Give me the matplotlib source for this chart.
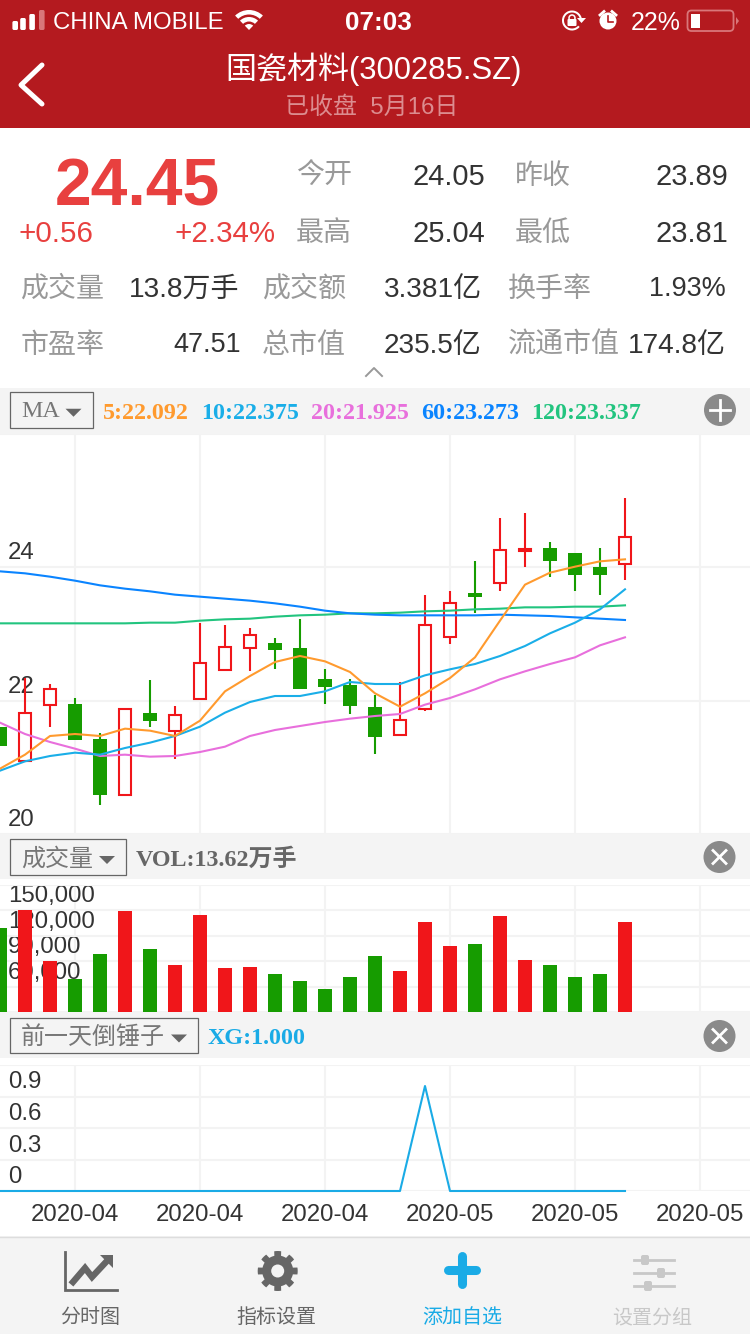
import numpy as np
import matplotlib
matplotlib.use("Agg")
import matplotlib.pyplot as plt
from matplotlib.patches import Rectangle, Circle, Wedge, Polygon, FancyBboxPatch
from matplotlib.transforms import ScaledTranslation

W, H = 750, 1334
SANS = ['Liberation Sans', 'Noto Sans CJK SC', 'DejaVu Sans']
SERIF = ['Liberation Serif', 'Noto Sans CJK SC', 'DejaVu Sans']
plt.rcParams['font.family'] = SANS

# ---------- data ----------
opens = [21.61, 21.10, 21.94, 21.95, 21.43, 20.59, 21.82, 21.55, 22.03, 22.46, 22.79, 22.86, 22.79,
         22.32, 22.23, 21.91, 21.49, 21.88, 22.95, 23.61, 23.77, 24.25, 24.29, 24.22, 24.01, 24.05]
closes = [21.32, 21.82, 22.17, 21.41, 20.58, 21.88, 21.70, 21.79, 22.56, 22.80, 22.98, 22.76, 22.17,
          22.20, 21.92, 21.46, 21.71, 23.13, 23.46, 23.55, 24.26, 24.28, 24.09, 23.89, 23.89, 24.45]
highs = [21.61, 22.34, 22.25, 22.04, 21.52, 21.89, 22.31, 21.92, 23.16, 23.14, 23.09, 22.94, 23.23,
         22.47, 22.32, 22.09, 22.28, 23.58, 23.65, 24.09, 24.74, 24.82, 24.38, 24.22, 24.29, 25.04]
lows = [21.32, 21.10, 21.61, 21.41, 20.43, 20.59, 21.61, 21.13, 22.03, 22.46, 22.44, 22.47, 22.17,
        21.95, 21.80, 21.20, 21.49, 21.85, 22.85, 23.32, 23.65, 24.01, 23.86, 23.65, 23.59, 23.81]
ma5 = [20.98, 21.19, 21.47, 21.50, 21.47, 21.58, 21.55, 21.47, 21.70, 22.14, 22.37, 22.58, 22.67,
       22.59, 22.43, 22.11, 21.91, 22.11, 22.34, 22.65, 23.20, 23.74, 23.92, 24.01, 24.09, 24.12]
ma10 = [20.95, 21.09, 21.17, 21.22, 21.19, 21.29, 21.37, 21.47, 21.61, 21.82, 21.98, 22.07, 22.07,
        22.14, 22.28, 22.25, 22.25, 22.38, 22.47, 22.55, 22.67, 22.82, 23.01, 23.17, 23.37, 23.67]
ma20 = [21.67, 21.50, 21.38, 21.28, 21.17, 21.19, 21.16, 21.17, 21.23, 21.31, 21.47, 21.56, 21.62,
        21.68, 21.73, 21.77, 21.80, 21.94, 22.04, 22.17, 22.32, 22.44, 22.55, 22.65, 22.83, 22.95]
ma60 = [23.94, 23.91, 23.86, 23.80, 23.73, 23.68, 23.64, 23.59, 23.56, 23.53, 23.50, 23.46, 23.41,
        23.35, 23.31, 23.29, 23.28, 23.28, 23.28, 23.28, 23.29, 23.28, 23.27, 23.25, 23.23, 23.21]
ma120 = [23.16, 23.16, 23.16, 23.16, 23.16, 23.16, 23.17, 23.17, 23.20, 23.22, 23.23, 23.26, 23.28,
         23.29, 23.31, 23.31, 23.32, 23.34, 23.35, 23.37, 23.38, 23.40, 23.40, 23.41, 23.41, 23.43]
volume = [129200, 150500, 90200, 69000, 98500, 149300, 104400, 85500, 144600, 82000, 83100, 74900, 66600,
          57200, 71300, 96100, 78400, 136300, 107900, 110300, 143400, 91400, 85500, 71300, 74900, 136200]
signal = [0, 0, 0, 0, 0, 0, 0, 0, 0, 0, 0, 0, 0, 0, 0, 0, 0, 1, 0, 0, 0, 0, 0, 0, 0, 0]
date_labels = ['2020-04', '2020-04', '2020-04', '2020-05', '2020-05', '2020-05']
date_ticks = [3, 8, 13, 18, 23, 28]
price_ticks = [20, 22, 24, 26]
price_labels = ['20', '22', '24', '']
vol_ticks = [30000, 60000, 90000, 120000, 150000, 180000]
vol_labels = ['', '60,000', '90,000', '120,000', '150,000', '']
sig_ticks = [0, 0.3, 0.6, 0.9, 1.2]
sig_labels = ['0', '0.3', '0.6', '0.9', '']

RED = '#f0161a'
GREEN = '#169c00'
GRID = '#f3f3f3'
BLUE = '#1aabe6'
BAND = '#f4f4f4'
x = np.arange(len(opens))

fig = plt.figure(figsize=(7.5, 13.34), dpi=100, facecolor='white')

# ---------- page furniture in pixel coordinates ----------
bg = fig.add_axes([0, 0, 1, 1], zorder=0)
bg.set_xlim(0, W)
bg.set_ylim(H, 0)
bg.axis('off')


def px(size):
    return size * 0.72


def T(xp, yp, s, size, color='#333333', ha='left', weight='normal', fam=None):
    bg.text(xp, yp + 0.09 * size, s, fontsize=px(size), color=color, ha=ha, va='center', weight=weight,
            family=fam or SANS)


def R(x0, y0, x1, y1, fc, ec='none', lw=0):
    bg.add_patch(Rectangle((x0, y0), x1 - x0, y1 - y0, fc=fc, ec=ec, lw=lw))


def RR(x0, y0, x1, y1, rad, fc='none', ec='none', lw=0):
    bg.add_patch(FancyBboxPatch((x0, y0), x1 - x0, y1 - y0, boxstyle=f'round,pad=0,rounding_size={rad}',
                                fc=fc, ec=ec, lw=lw))


HEAD = '#b41a1f'
DIM = '#d9777a'
R(0, 0, W, 128, HEAD)
for bx, top, col in [(12.4, 21, 'white'), (20.2, 18, 'white'), (29.3, 14, 'white'), (39, 10, DIM)]:
    RR(bx, top, bx + 5.6, 30, 1.6, fc=col)
T(53, 21, 'CHINA MOBILE', 24, 'white')
for r0, r1 in [(0, 6), (8.5, 13), (15.5, 20)]:
    bg.add_patch(Wedge((249, 30), r1, 226, 314, width=r1 - r0, fc='white', ec='none'))
T(378.5, 21, '07:03', 26, 'white', ha='center', weight='bold')
bg.add_patch(Wedge((572, 20.5), 10, 40, 350, width=2, fc='white', ec='none'))
bg.add_patch(Polygon([[577, 18], [586, 18], [581.5, 23]], fc='white', ec='none'))
RR(567.5, 19, 576.5, 26, 1, fc='white')
bg.add_patch(Circle((572, 18), 3, fc='none', ec='white', lw=1.1))
bg.add_patch(Circle((608, 21), 8.5, fc='white', ec='none'))
bg.plot([608, 608, 612.5], [15.5, 22, 22], color=HEAD, lw=1.2)
bg.plot([600, 604], [15, 11.5], color='white', lw=2)
bg.plot([616, 612], [15, 11.5], color='white', lw=2)
T(631, 21, '22%', 25, 'white')
RR(687.5, 10.5, 733.5, 31, 4, ec=DIM, lw=1.3)
R(690.5, 13.5, 700, 28, 'white')
bg.add_patch(Polygon([[736, 17], [739, 21], [736, 25]], fc=DIM, ec='none'))
bg.plot([42, 21, 42], [65, 85, 104], color='white', lw=3.6, solid_capstyle='round', solid_joinstyle='round')
T(373.5, 66, '国瓷材料(300285.SZ)', 31, 'white', ha='center')
T(372, 105, '已收盘  5月16日', 24, '#dc8c8f', ha='center')

PR = '#e8403f'
LB = '#999999'
VL = '#333333'
T(137, 183, '24.45', 66, PR, ha='center', weight='bold')
T(19, 231, '+0.56', 29.5, PR)
T(276, 231, '+2.34%', 29.5, PR, ha='right')
for xp, yp, s in [(296, 174, '今开'), (515, 174, '昨收'), (296, 231, '最高'), (515, 231, '最低'),
                  (20, 287, '成交量'), (262, 287, '成交额'), (508, 287, '换手率'),
                  (21, 343, '市盈率'), (262, 343, '总市值'), (508, 343, '流通市值')]:
    T(xp, yp, s, 28, LB)
for xp, yp, s, fs in [(485.5, 174, '24.05', 29), (728.5, 174, '23.89', 29), (485.5, 231, '25.04', 29),
                      (728.5, 231, '23.81', 29), (239.5, 287, '13.8万手', 28), (482.5, 287, '3.381亿', 28),
                      (726, 287, '1.93%', 27), (241, 343, '47.51', 27), (481.5, 343, '235.5亿', 28),
                      (725.5, 343, '174.8亿', 28)]:
    T(xp, yp, s, fs, VL, ha='right')
bg.plot([366, 374, 382], [376, 368, 376], color='#999999', lw=1.4)

for y0, y1 in [(388, 434), (834, 879), (1012, 1058)]:
    R(0, y0, W, y1, BAND)


def box(x0, y0, x1, y1, s, size=24, fam=None):
    R(x0, y0, x1, y1, 'none', ec='#666666', lw=0.9)
    T(x0 + 11, (y0 + y1) / 2, s, size, '#777777', fam=fam)
    my = (y0 + y1) / 2
    bg.add_patch(Polygon([[x1 - 27, my - 1], [x1 - 11, my - 1], [x1 - 19, my + 7]], fc='#666666', ec='none'))


box(10, 392, 92.5, 427.5, 'MA', 24, SERIF)
box(10, 839, 126, 875, '成交量')
box(10, 1018, 198, 1053, '前一天倒锤子')
for xp, s, c in [(103, '5:22.092', '#ff9a2e'), (201, '10:22.375', '#1aaee8'), (311, '20:21.925', '#e86fdc'),
                 (421, '60:23.273', '#0a84ff'), (531, '120:23.337', '#22c47f')]:
    T(xp, 411, s, 24, c, weight='bold', fam=SERIF)
T(136, 857, 'VOL:13.62万手', 24, '#666666', weight='bold', fam=SERIF)
T(208, 1036, 'XG:1.000', 24, BLUE, weight='bold', fam=SERIF)
bg.add_patch(Circle((720, 410), 16, fc='#8a8a8a', ec='none'))
bg.plot([710, 730], [410, 410], color='white', lw=2)
bg.plot([720, 720], [400, 420], color='white', lw=2)
for cy in (857, 1036):
    bg.add_patch(Circle((719.5, cy), 16, fc='#8a8a8a', ec='none'))
    bg.plot([713, 726], [cy - 6.5, cy + 6.5], color='white', lw=2)
    bg.plot([713, 726], [cy + 6.5, cy - 6.5], color='white', lw=2)

# footer
R(0, 1236, W, H, BAND)
bg.plot([0, W], [1236.5, 1236.5], color='#dddddd', lw=1)
DK = '#666666'
bg.plot([65, 65, 117], [1252, 1290, 1290], color=DK, lw=2, solid_joinstyle='miter')
bg.plot([73, 85, 92, 106], [1282, 1268, 1277, 1262], color=DK, lw=4.6, solid_joinstyle='miter')
bg.add_patch(Polygon([[113, 1255], [113, 1268], [100, 1255]], fc=DK, ec='none'))
angs = np.linspace(0, 2 * np.pi, 145)[:-1]
gr = 15.5 + 4.5 * (np.cos(8 * angs) > -0.1)
bg.add_patch(Polygon(np.c_[277.7 + gr * np.cos(angs), 1271 + gr * np.sin(angs)], fc=DK, ec='none'))
bg.add_patch(Circle((277.7, 1271), 6.5, fc=BAND, ec='none'))
bg.plot([448, 476], [1270, 1270], color=BLUE, lw=6.5, solid_capstyle='round')
bg.plot([462, 462], [1256, 1284], color=BLUE, lw=6.5, solid_capstyle='round')
LG = '#c8c8c8'
for sy, kx in [(1260, 645), (1273, 661), (1286, 648)]:
    bg.plot([634, 674], [sy, sy], color=LG, lw=2)
    RR(kx - 4, sy - 5, kx + 4, sy + 5, 2, fc=LG)
T(90, 1316, '分时图', 20, '#666666', ha='center')
T(276, 1316, '指标设置', 20, '#666666', ha='center')
T(462, 1316, '添加自选', 20, BLUE, ha='center')
T(652, 1316, '设置分组', 20, LG, ha='center')


# ---------- chart panels ----------
def panel(y0, y1, ylim, ticks, labels, show_x=False):
    ax = fig.add_axes([0, 1 - y1 / H, 1, (y1 - y0) / H], zorder=2)
    ax.patch.set_alpha(0)
    ax.set_xlim(0, W / 25)
    ax.set_ylim(*ylim)
    for s in ax.spines.values():
        s.set_visible(False)
    ax.set_axisbelow(True)
    ax.set_xticks(date_ticks)
    ax.set_yticks(ticks)
    ax.grid(True, color=GRID, lw=1.5)
    ax.tick_params(axis='y', length=0, pad=-px(8), labelsize=px(24), labelcolor='#333333')
    ax.tick_params(axis='x', length=0, pad=px(13), labelsize=px(24), labelcolor='#333333')
    ax.set_yticklabels(labels)
    up = ScaledTranslation(0, 14 / 100, fig.dpi_scale_trans)
    for lab in ax.get_yticklabels():
        lab.set_horizontalalignment('left')
        lab.set_verticalalignment('center')
        lab.set_transform(lab.get_transform() + up)
    if show_x:
        ax.set_xticklabels(date_labels)
    else:
        ax.set_xticklabels([])
    return ax


ax1 = panel(434, 834, (20.01, 25.98), price_ticks, price_labels)
for i in x:
    up_day = closes[i] >= opens[i]
    c = RED if up_day else GREEN
    ax1.vlines(i, lows[i], highs[i], color=c, lw=1.5, zorder=1.5)
    b0, b1 = min(opens[i], closes[i]), max(opens[i], closes[i])
    if up_day:
        ax1.bar(i, b1 - b0, bottom=b0, width=0.5, fc='white', ec=c, lw=1.5, zorder=2)
    else:
        ax1.bar(i, b1 - b0, bottom=b0, width=0.56, fc=c, ec='none', zorder=2)
for series, col in [(ma120, '#22c47f'), (ma60, '#0a84ff'), (ma20, '#e86fdc'), (ma10, '#1aaee8'), (ma5, '#ff9a2e')]:
    ax1.plot(x, series, color=col, lw=1.5, zorder=3)

ax2 = panel(885, 1012, (30000, 180000), vol_ticks, vol_labels)
vol_col = [RED if c >= o else GREEN for o, c in zip(opens, closes)]
ax2.bar(x, volume, width=0.56, color=vol_col, zorder=2)

ax3 = panel(1065, 1191, (0, 1.2), sig_ticks, sig_labels, show_x=True)
ax3.plot(x, signal, color=BLUE, lw=1.5, zorder=3, clip_on=False)

fig.savefig('out.png', dpi=100, facecolor='white')
